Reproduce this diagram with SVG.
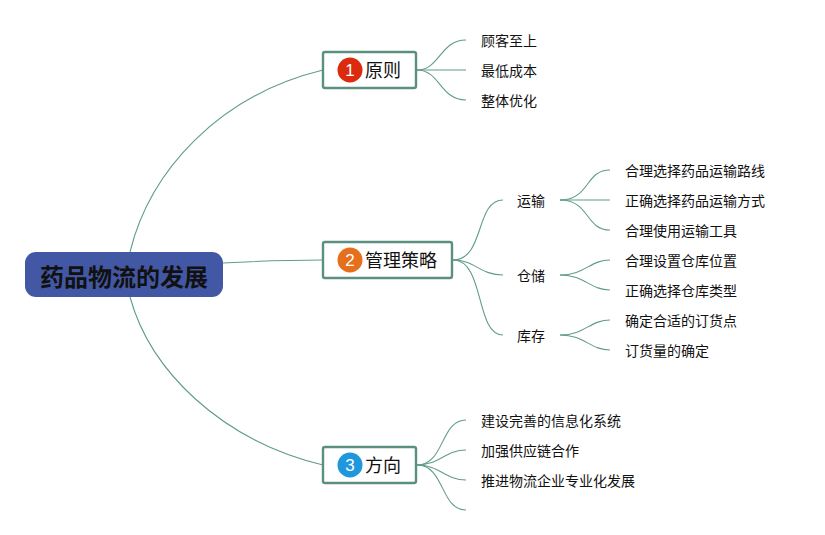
<svg xmlns="http://www.w3.org/2000/svg" width="825" height="535" viewBox="0 0 825 535">
<style>
text{font-family:"Noto Sans CJK SC","Noto Sans",sans-serif;fill:#111}
.c path{fill:none;stroke:#5f9c89;stroke-width:1.1}
.t{font-size:14px}
.m{font-size:18px}
.b{fill:#fff;stroke:#5b9080;stroke-width:2.4}
.n{font-family:"Liberation Sans",sans-serif;font-size:17px;fill:#fff;text-anchor:middle}
</style>
<rect width="825" height="535" fill="#fff"/>
<g class="c" id="connectors">
<path d="M130 252C150 170 220 95 323 70"/>
<path d="M223 263C260 261 290 260 323 260"/>
<path d="M130 297C150 370 220 440 323 465"/>
<path d="M417 70C440 70 440 40 466 40"/>
<path d="M417 70H466"/>
<path d="M417 70C440 70 440 100 466 100"/>
<path d="M453 260C485 260 475 200 503 200"/>
<path d="M453 260C475 260 480 275 503 275"/>
<path d="M453 260C485 260 475 335 503 335"/>
<path d="M560 200C590 200 585 170 610 170"/>
<path d="M560 200H610"/>
<path d="M560 200C590 200 585 230 610 230"/>
<path d="M560 275C585 275 590 260 610 260"/>
<path d="M560 275C585 275 590 290 610 290"/>
<path d="M560 335C585 335 590 320 610 320"/>
<path d="M560 335C585 335 590 350 610 350"/>
<path d="M417 465C445 465 440 420 466 420"/>
<path d="M417 465C440 465 445 450 466 450"/>
<path d="M417 465C440 465 445 480 466 480"/>
<path d="M417 465C445 465 440 510 466 510"/>
</g>
<g id="root"><rect x="25" y="252" width="198" height="45" rx="11" fill="#4358a4"/><text x="124" y="286" font-size="24" font-weight="700" text-anchor="middle">药品物流的发展</text></g>
<g id="n1"><rect class="b" x="323" y="52" width="93" height="36" rx="2"/><circle cx="350" cy="70" r="12.5" fill="#dc2a0f"/><text class="n" x="350" y="76">1</text><text class="m" x="365" y="77">原则</text></g>
<g id="n2"><rect class="b" x="323" y="242" width="129" height="36" rx="2"/><circle cx="350" cy="260" r="12.5" fill="#e56f1a"/><text class="n" x="350" y="266">2</text><text class="m" x="365" y="267">管理策略</text></g>
<g id="n3"><rect class="b" x="323" y="447" width="93" height="36" rx="2"/><circle cx="350" cy="465" r="12.5" fill="#1f97dc"/><text class="n" x="350" y="471">3</text><text class="m" x="365" y="472">方向</text></g>
<g id="l1"><text class="t" x="481" y="46">顾客至上</text></g>
<g id="l2"><text class="t" x="481" y="76">最低成本</text></g>
<g id="l3"><text class="t" x="481" y="106">整体优化</text></g>
<g id="s1"><text class="t" x="517" y="206">运输</text></g>
<g id="s2"><text class="t" x="517" y="281">仓储</text></g>
<g id="s3"><text class="t" x="517" y="341">库存</text></g>
<g id="a1"><text class="t" x="625" y="176">合理选择药品运输路线</text></g>
<g id="a2"><text class="t" x="625" y="206">正确选择药品运输方式</text></g>
<g id="a3"><text class="t" x="625" y="236">合理使用运输工具</text></g>
<g id="a4"><text class="t" x="625" y="266">合理设置仓库位置</text></g>
<g id="a5"><text class="t" x="625" y="296">正确选择仓库类型</text></g>
<g id="a6"><text class="t" x="625" y="326">确定合适的订货点</text></g>
<g id="a7"><text class="t" x="625" y="356">订货量的确定</text></g>
<g id="d1"><text class="t" x="481" y="426">建设完善的信息化系统</text></g>
<g id="d2"><text class="t" x="481" y="456">加强供应链合作</text></g>
<g id="d3"><text class="t" x="481" y="486">推进物流企业专业化发展</text></g>
</svg>
